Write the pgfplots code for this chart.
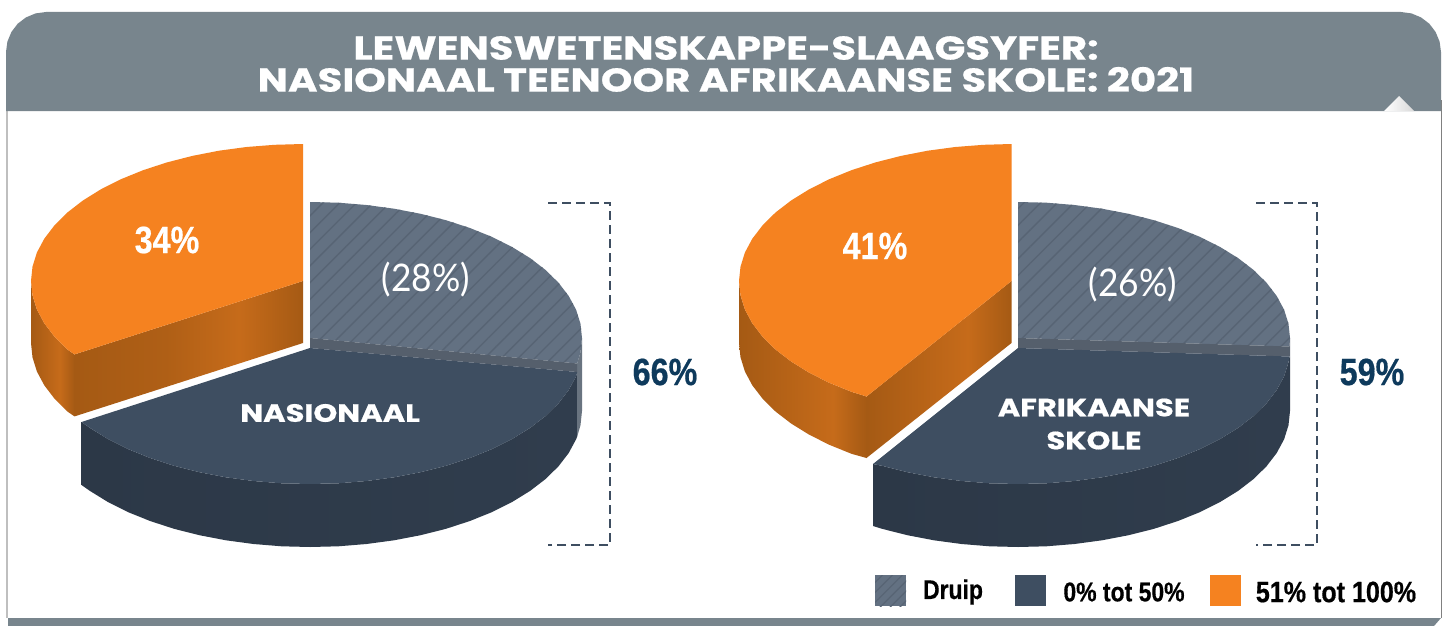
\documentclass[border=0pt]{standalone}
\usepackage{fontspec}
\usepackage{pgfplots}
\usepackage{pgfplotstable}
\pgfplotsset{compat=1.18}
\usetikzlibrary{patterns.meta}
\newfontfamily\titlefont[FakeStretch=1.22,FakeBold=0.6]{Poppins}
\newfontfamily\condfont[FakeStretch=0.85,FakeBold=0.5]{Liberation Sans}
\newfontfamily\lightfont[FakeStretch=0.93]{Lato}
\definecolor{hdr}{RGB}{120,133,141}
\definecolor{orng}{RGB}{245,130,32}
\definecolor{navy}{RGB}{62,78,97}
\definecolor{navyside}{RGB}{44,56,71}
\definecolor{navysideb}{RGB}{48,61,77}
\definecolor{slate}{RGB}{99,113,130}
\definecolor{slateh}{RGB}{87,100,116}
\definecolor{strip}{RGB}{85,95,108}
\definecolor{rimc}{RGB}{105,116,128}
\definecolor{oa}{RGB}{165,90,20}
\definecolor{ob}{RGB}{198,107,26}
\definecolor{om}{RGB}{175,95,22}
\definecolor{numc}{RGB}{14,58,92}
\pgfdeclarehorizontalshading{owl}{100bp}{color(0bp)=(oa);color(25bp)=(oa);color(58bp)=(ob);color(75bp)=(oa);color(100bp)=(oa)}
\pgfdeclarehorizontalshading{ocl}{100bp}{color(0bp)=(oa);color(25bp)=(oa);color(45bp)=(om);color(61bp)=(ob);color(75bp)=(oa);color(100bp)=(oa)}
\pgfdeclarehorizontalshading{owr}{100bp}{color(0bp)=(oa);color(25bp)=(oa);color(62bp)=(ob);color(75bp)=(oa);color(100bp)=(oa)}
\pgfdeclarehorizontalshading{ocr}{100bp}{color(0bp)=(oa);color(25bp)=(oa);color(60bp)=(ob);color(75bp)=(oa);color(100bp)=(oa)}
\pgfplotstableread{
x y
310 202
338.4 202.7
366.5 205
394 208.7
420.6 213.8
446 220.2
469.9 228
492 236.9
512.1 247
530.1 258.1
545.6 270
558.5 282.7
568.7 296
576.1 309.7
580.5 323.8
582 338
580.5 352.2
577.2 363.5
310 338
}\greyL
\pgfplotstableread{
x y
1018 202
1046.4 202.7
1074.5 205
1102 208.7
1128.6 213.8
1154 220.2
1177.9 228
1200 236.9
1220.1 247
1238.1 258.1
1253.6 270
1266.5 282.7
1276.7 296
1284.1 309.7
1288.5 323.8
1290 338
1289.5 346.5
1018 338
}\greyR
\pgfplotstableread{
x y
875 575
906 575
906 606
875 606
}\greyLeg
\begin{document}
\begin{tikzpicture}
\begin{axis}[
  scale only axis, width=1448pt, height=626pt,
  xmin=0, xmax=1448, ymin=0, ymax=626, y dir=reverse,
  hide axis, clip=false, no markers,
  every axis plot/.append style={forget plot, draw=none},
]
% canvas and panel
\addplot[fill=white] coordinates {(0,0)(1448,0)(1448,626)(0,626)} -- cycle;
\addplot[draw=black!25, line width=2pt] coordinates {(7,100)(7,618)};
\addplot[draw=black!50, line width=1pt] coordinates {(1441,100)(1441,618)};
\addplot[fill=hdr] coordinates {(8,618)(1441,618)(1434,626)(8,626)} -- cycle;
\addplot[fill=hdr] coordinates {(6,111)(6,52)(7.4,41.6)(11.4,32)(17.7,23.7)(26,17.4)(35.6,13.4)(46,12)(1401,12)(1411.4,13.4)(1421,17.4)(1429.3,23.7)(1435.6,32)(1439.6,41.6)(1441,52)(1441,111)} -- cycle;
\addplot[left color=white, right color=black!15] coordinates {(1384,111)(1399,96)(1414,111)} -- cycle;
% left pie: dark wall, rim, grey, strip, dark top
\addplot[left color=navyside, right color=navysideb] coordinates {
(577.2,372)(576.1,376.3)(568.7,390)(558.5,403.3)(545.6,416)(530.1,427.9)(512.1,439)(492,449.1)(469.9,458)(446,465.8)(420.6,472.2)(394,477.3)(366.5,481)(338.4,483.3)(310,484)(281.6,483.3)(253.5,481)(226,477.3)(199.4,472.2)(174,465.8)(150.1,458)(128,449.1)(107.9,439)(89.9,427.9)(81.5,422)
(81.5,485)(89.9,490.9)(107.9,502)(128,512.1)(150.1,521)(174,528.8)(199.4,535.2)(226,540.3)(253.5,544)(281.6,546.3)(310,547)(338.4,546.3)(366.5,544)(394,540.3)(420.6,535.2)(446,528.8)(469.9,521)(492,512.1)(512.1,502)(530.1,490.9)(545.6,479)(558.5,466.3)(568.7,453)(576.1,439.3)(577.2,436.5)} -- cycle;
\addplot[fill=rimc] coordinates {(577.2,363.5)(580.5,352.2)(582,338)(582,411)(580.5,425.2)(577.2,436.5)} -- cycle;
\addplot[fill=slate] table {\greyL} -- cycle;
\addplot[pattern={Lines[angle=45,distance=11.8pt,line width=1.4pt]}, pattern color=slateh] table {\greyL} -- cycle;
\addplot[fill=strip] coordinates {(310,338)(577.2,363.5)(577.2,372)(310,348)} -- cycle;
\addplot[fill=navy] coordinates {
(310,348)(577.2,372)(576.1,376.3)(568.7,390)(558.5,403.3)(545.6,416)(530.1,427.9)(512.1,439)(492,449.1)(469.9,458)(446,465.8)(420.6,472.2)(394,477.3)(366.5,481)(338.4,483.3)(310,484)(281.6,483.3)(253.5,481)(226,477.3)(199.4,472.2)(174,465.8)(150.1,458)(128,449.1)(107.9,439)(89.9,427.9)(81.5,422)} -- cycle;
% left orange
\addplot[shading=owl] coordinates {(31,281)(32.5,295.3)(36.9,309.5)(44.3,323.3)(54.5,336.7)(67.4,349.5)(74.5,354.4)(74.5,416.4)(67.4,411.5)(54.5,398.7)(44.3,385.3)(36.9,371.5)(32.5,357.3)(31,343)} -- cycle;
\addplot[shading=ocl] coordinates {(74.5,354.4)(303,281)(303,343)(74.5,416.4)} -- cycle;
\addplot[fill=orng] coordinates {(303,144)(274.6,144.8)(246.5,147)(219,150.7)(192.4,155.9)(167,162.4)(143.1,170.2)(121,179.2)(100.9,189.3)(82.9,200.5)(67.4,212.5)(54.5,225.3)(44.3,238.7)(36.9,252.5)(32.5,266.7)(31,281)(32.5,295.3)(36.9,309.5)(44.3,323.3)(54.5,336.7)(67.4,349.5)(74.5,354.4)(303,281)} -- cycle;
% right pie
\addplot[left color=navyside, right color=navysideb] coordinates {
(1289.5,356.5)(1288.5,362.2)(1284.1,376.3)(1276.7,390)(1266.5,403.3)(1253.6,416)(1238.1,427.9)(1220.1,439)(1200,449.1)(1177.9,458)(1154,465.8)(1128.6,472.2)(1102,477.3)(1074.5,481)(1046.4,483.3)(1018,484)(989.6,483.3)(961.5,481)(934,477.3)(907.4,472.2)(882,465.8)(873,464)
(873,526)(882,528.8)(907.4,535.2)(934,540.3)(961.5,544)(989.6,546.3)(1018,547)(1046.4,546.3)(1074.5,544)(1102,540.3)(1128.6,535.2)(1154,528.8)(1177.9,521)(1200,512.1)(1220.1,502)(1238.1,490.9)(1253.6,479)(1266.5,466.3)(1276.7,453)(1284.1,439.3)(1288.5,425.2)(1290,411)(1290,356.5)} -- cycle;
\addplot[fill=slate] table {\greyR} -- cycle;
\addplot[pattern={Lines[angle=45,distance=11.8pt,line width=1.4pt]}, pattern color=slateh] table {\greyR} -- cycle;
\addplot[fill=strip] coordinates {(1018,338)(1289.5,346.5)(1290,338)(1290,356.5)(1018,348)} -- cycle;
\addplot[fill=navy] coordinates {
(1018,348)(1289.5,356.5)(1288.5,362.2)(1284.1,376.3)(1276.7,390)(1266.5,403.3)(1253.6,416)(1238.1,427.9)(1220.1,439)(1200,449.1)(1177.9,458)(1154,465.8)(1128.6,472.2)(1102,477.3)(1074.5,481)(1046.4,483.3)(1018,484)(989.6,483.3)(961.5,481)(934,477.3)(907.4,472.2)(882,465.8)(873,464)} -- cycle;
% right orange
\addplot[shading=owr] coordinates {(739,281)(740.5,295.3)(744.9,309.5)(752.3,323.3)(762.6,336.7)(775.5,349.5)(791.1,361.5)(809.2,372.7)(829.3,382.8)(851.5,391.8)(866.5,396.5)(866.5,458)(851.5,453.8)(829.3,444.8)(809.2,434.7)(791.1,423.5)(775.5,411.5)(762.6,398.7)(752.3,385.3)(744.9,371.5)(740.5,357.3)(739,343)} -- cycle;
\addplot[shading=ocr] coordinates {(866.5,396.5)(1011.5,281)(1011.5,343)(866.5,458)} -- cycle;
\addplot[fill=orng] coordinates {(1011.5,144)(983.5,144.8)(955.3,147)(927.7,150.7)(901,155.9)(875.5,162.4)(851.5,170.2)(829.3,179.2)(809.2,189.3)(791.1,200.5)(775.5,212.5)(762.6,225.3)(752.3,238.7)(744.9,252.5)(740.5,266.7)(739,281)(740.5,295.3)(744.9,309.5)(752.3,323.3)(762.6,336.7)(775.5,349.5)(791.1,361.5)(809.2,372.7)(829.3,382.8)(851.5,391.8)(866.5,396.5)(1011.5,281)} -- cycle;
% brackets
\addplot[draw=navy, line width=2.6pt, dash pattern=on 9pt off 5pt] coordinates {(548,203)(610,203)(610,545)(548,545)};
\addplot[draw=navy, line width=2.6pt, dash pattern=on 9pt off 5pt] coordinates {(1256,203)(1317,203)(1317,545)(1256,545)};
% legend swatches
\addplot[fill=slate] table {\greyLeg} -- cycle;
\addplot[pattern={Lines[angle=45,distance=7pt,line width=1.2pt]}, pattern color=slateh] table {\greyLeg} -- cycle;
\addplot[fill=navy] coordinates {(1015,575)(1046,575)(1046,606)(1015,606)} -- cycle;
\addplot[fill=orng] coordinates {(1210,575)(1241,575)(1241,606)(1210,606)} -- cycle;
% text
\node[text=white, align=center, font=\titlefont\bfseries\fontsize{33}{32}\selectfont] at (726,64) {LEWENSWETENSKAPPE-SLAAGSYFER:\\NASIONAAL TEENOOR AFRIKAANSE SKOLE: 2021};
\node[text=white, font=\condfont\bfseries\fontsize{38}{38}\selectfont] at (167,240) {34\%};
\node[text=white, font=\condfont\bfseries\fontsize{38}{38}\selectfont] at (875,246) {41\%};
\node[text=white, font=\lightfont\fontsize{38}{38}\selectfont] at (426,280) {(28\%)};
\node[text=white, font=\lightfont\fontsize{38}{38}\selectfont] at (1133,285) {(26\%)};
\node[text=numc, font=\condfont\bfseries\fontsize{38}{38}\selectfont] at (665,372) {66\%};
\node[text=numc, font=\condfont\bfseries\fontsize{38}{38}\selectfont] at (1372,372) {59\%};
\node[text=white, font=\titlefont\bfseries\fontsize{25}{25}\selectfont] at (330,413) {NASIONAAL};
\node[text=white, align=center, font=\titlefont\bfseries\fontsize{25}{33}\selectfont] at (1094,424) {AFRIKAANSE\\SKOLE};
\node[text=black, font=\condfont\bfseries\fontsize{27}{27}\selectfont] at (953,592) {Druip};
\node[text=black, font=\condfont\bfseries\fontsize{27}{27}\selectfont] at (1124,592) {0\% tot 50\%};
\node[text=black, font=\condfont\bfseries\fontsize{29.5}{29.5}\selectfont] at (1336,592) {51\% tot 100\%};
\end{axis}
\end{tikzpicture}
\end{document}
